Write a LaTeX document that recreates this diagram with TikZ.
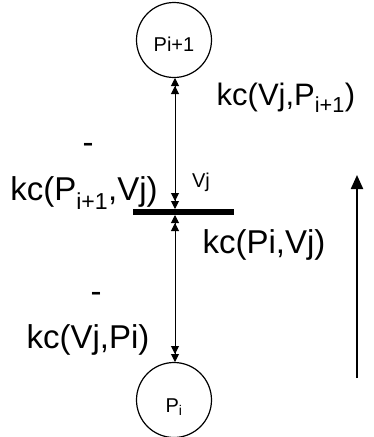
\documentclass[tikz,border=0pt]{standalone}
\usepackage{fontspec}
\setmainfont{Liberation Sans}
\usetikzlibrary{arrows.meta}
\begin{document}
\begin{tikzpicture}[x=1pt,y=-1pt,
  place/.style={draw,circle,line width=1.2pt,minimum size=75pt,inner sep=0pt},
  lab/.style={font=\fontsize{33}{40}\selectfont,inner sep=0pt},
  small/.style={font=\fontsize{20}{24}\selectfont,inner sep=0pt},
  dbl/.style={line width=1pt,{Triangle[length=8pt,width=8pt]Triangle[length=8pt,width=8pt]}-{Triangle[length=8pt,width=8pt]Triangle[length=8pt,width=8pt]}}]
\useasboundingbox (0,0) rectangle (373,437);
\node[place] (top) at (174,40) {};
\node[small] (toplab) at (174,44) {Pi+1};
\node[place] (bot) at (174,400) {};
\node[small] (botlab) at (174,407) {P\textsubscript{i}};
\coordinate (bl) at (133,212);
\coordinate (br) at (234,212);
\draw[line width=6pt] (bl) -- (br);
\coordinate (bu) at (175,209);
\coordinate (bd) at (175,215);
\coordinate (tu) at (175,78);
\coordinate (td) at (175,362);
\draw[dbl] (tu) -- (bu);
\draw[dbl] (bd) -- (td);
\coordinate (a1) at (357,378);
\coordinate (a2) at (357,175);
\draw[line width=2.2pt,-{Triangle[length=14pt,width=12pt]}] (a1) -- (a2);
\node[lab] (m1) at (88,148) {-};
\node[lab] (l1) at (84,193) {kc(P\textsubscript{i+1},Vj)};
\node[small] (vj) at (201,182) {Vj};
\node[lab,font=\fontsize{31}{37}\selectfont] (l2) at (286,98) {kc(Vj,P\textsubscript{i+1})};
\node[lab] (l3) at (264,245) {kc(Pi,Vj)};
\node[lab] (m2) at (96,297) {-};
\node[lab] (l4) at (88,340) {kc(Vj,Pi)};
\end{tikzpicture}
\end{document}
